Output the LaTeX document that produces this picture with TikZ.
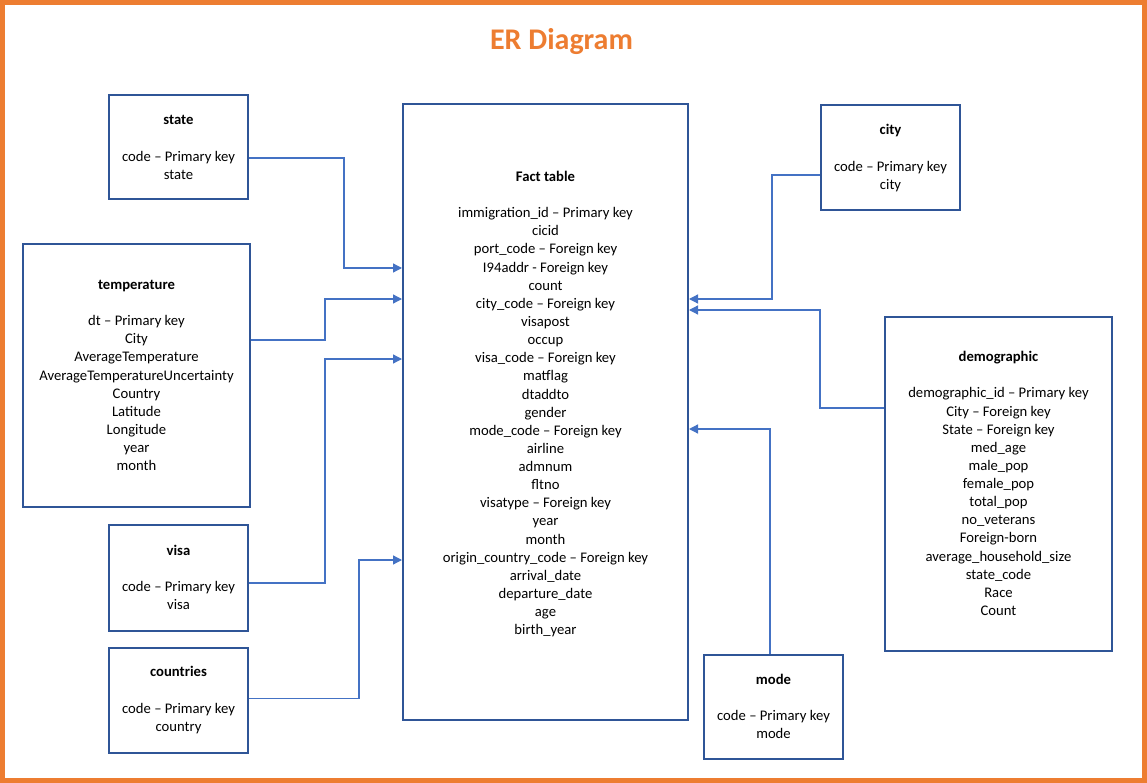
\documentclass[tikz,border=0pt]{standalone}
\usepackage{fontspec}
\setmainfont{Carlito}
\usetikzlibrary{positioning, arrows.meta}

\definecolor{frameorange}{HTML}{ED7D31}
\definecolor{boxblue}{HTML}{2F5597}
\definecolor{linkblue}{HTML}{4472C4}

\begin{document}
\begin{tikzpicture}[
        x=1pt, y=-1pt,
        entity/.style = {rectangle, draw=boxblue, line width=2pt, align=center,
                         inner sep=0pt, font=\fontsize{14.67}{18.13}\selectfont},
        line/.style   = {draw=linkblue, line width=1.3pt,
                         -{Triangle[length=9pt, width=9pt]}}
    ]
        \useasboundingbox (0,0) rectangle (1147,783);
        \draw [frameorange, line width=5pt] (2.5,2.5) rectangle (1144.5,780.5);

        % title
        \node [anchor=base, text=frameorange, font=\fontsize{30}{36}\selectfont\bfseries]
              (title) at (561.5,49.5) {ER Diagram};

        % entities
        \node [entity, minimum width=285, minimum height=616] (fact) at (545.5,412)
              {\textbf{Fact table}\\[18.13pt]
               immigration\_id -- Primary key\\ cicid\\ port\_code -- Foreign key\\
               I94addr - Foreign key\\ count\\ city\_code -- Foreign key\\ visapost\\
               occup\\ visa\_code -- Foreign key\\ matflag\\ dtaddto\\ gender\\
               mode\_code -- Foreign key\\ airline\\ admnum\\ fltno\\
               visatype -- Foreign key\\ year\\ month\\
               origin\_country\_code -- Foreign key\\ arrival\_date\\
               departure\_date\\ age\\ birth\_year\\ \mbox{}};
        \node [entity, minimum width=139, minimum height=104] (state) at (178.5,147.5)
              {\textbf{state}\\[18.13pt] code -- Primary key\\ state};
        \node [entity, minimum width=227, minimum height=262] (temp) at (136.5,375.5)
              {\textbf{temperature}\\[18.13pt] dt -- Primary key\\ City\\
               AverageTemperature\\ AverageTemperatureUncertainty\\ Country\\
               Latitude\\ Longitude\\ year\\ month};
        \node [entity, minimum width=139, minimum height=106] (visa) at (178.5,577.5)
              {\textbf{visa}\\[18.13pt] code -- Primary key\\ visa};
        \node [entity, minimum width=139, minimum height=105] (countries) at (178.5,700)
              {\textbf{countries}\\[18.13pt] code -- Primary key\\ country};
        \node [entity, minimum width=139, minimum height=105] (city) at (890.5,158)
              {\textbf{city}\\[18.13pt] code -- Primary key\\ city};
        \node [entity, minimum width=227, minimum height=334] (demo) at (998.5,483.5)
              {\textbf{demographic}\\[18.13pt] demographic\_id -- Primary key\\
               City -- Foreign key\\ State -- Foreign key\\ med\_age\\ male\_pop\\
               female\_pop\\ total\_pop\\ no\_veterans\\ Foreign-born\\
               average\_household\_size\\ state\_code\\ Race\\ Count};
        \node [entity, minimum width=139, minimum height=104] (mode) at (773.5,706.5)
              {\textbf{mode}\\[18.13pt] code -- Primary key\\ mode};

        % links
        \path [line] ([yshift=-10.5pt]state.east) -- ++(95,0) |- (fact.west |- 0,268);
        \path [line] ([yshift=35.5pt]temp.east) -- ++(74,0) |- (fact.west |- 0,299);
        \path [line] ([yshift=-5.5pt]visa.east) -- ++(76,0) |- (fact.west |- 0,359);
        \path [line] ([yshift=1.5pt]countries.east) -- ++(110,0) |- (fact.west |- 0,560);
        \path [line] ([yshift=-17pt]city.west) -- ++(-48,0) |- (fact.east |- 0,299);
        \path [line] ([yshift=75.5pt]demo.west) -- ++(-64,0) |- (fact.east |- 0,310);
        \path [line] ([xshift=-3.5pt]mode.north) |- (fact.east |- 0,429);
    \end{tikzpicture}
\end{document}
